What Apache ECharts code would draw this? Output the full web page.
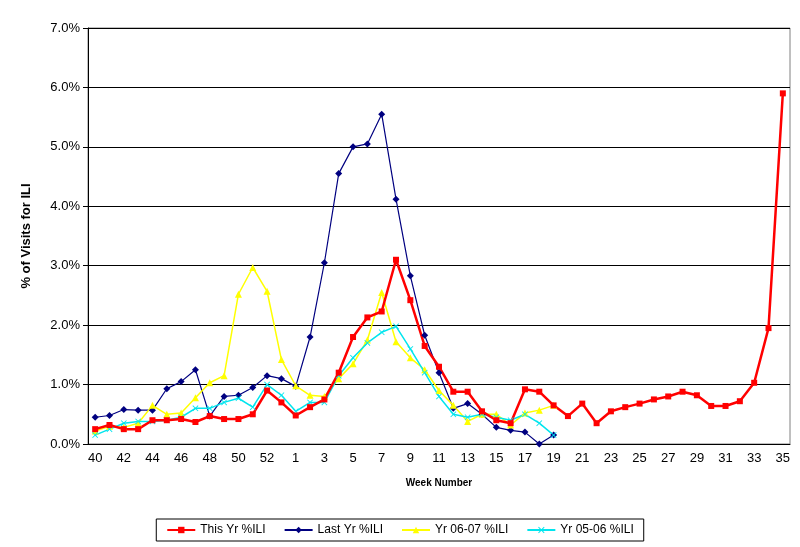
<!DOCTYPE html><html><head><meta charset="utf-8"><script src="https://cdn.jsdelivr.net/npm/echarts@6/dist/echarts.min.js"></script></head><body style="margin:0"><div id="c" style="width:800px;height:547px"></div><script>
const weeks=[40,41,42,43,44,45,46,47,48,49,50,51,52,53,1,2,3,4,5,6,7,8,9,10,11,12,13,14,15,16,17,18,19,20,21,22,23,24,25,26,27,28,29,30,31,32,33,34,35];
const thisYr=[0.25,0.32,0.25,0.25,0.4,0.4,0.42,0.37,0.47,0.42,0.42,0.5,0.9,0.7,0.48,0.62,0.75,1.2,1.8,2.13,2.23,3.1,2.42,1.65,1.3,0.88,0.88,0.55,0.4,0.35,0.92,0.88,0.65,0.47,0.68,0.35,0.55,0.62,0.68,0.75,0.8,0.88,0.82,0.64,0.64,0.72,1.03,1.95,5.9];
const lastYr=[0.45,0.48,0.58,0.57,0.57,0.93,1.05,1.25,0.47,0.8,0.82,0.95,1.15,1.1,0.97,1.8,3.05,4.55,5.0,5.05,5.55,4.12,2.83,1.83,1.2,0.6,0.68,0.5,0.28,0.23,0.2,0.0,0.15];
const yr0607=[0.22,0.3,0.28,0.35,0.65,0.5,0.52,0.78,1.03,1.15,2.52,2.97,2.57,1.42,0.98,0.82,0.8,1.1,1.35,1.75,2.55,1.72,1.45,1.25,0.9,0.65,0.38,0.5,0.5,0.32,0.52,0.57,0.65];
const yr0506=[0.15,0.25,0.35,0.38,0.38,0.4,0.45,0.6,0.6,0.7,0.77,0.62,1.0,0.82,0.55,0.7,0.7,1.15,1.45,1.7,1.88,1.98,1.6,1.2,0.8,0.5,0.45,0.5,0.45,0.4,0.5,0.35,0.15];
const ch=echarts.init(document.getElementById('c'));
const mk=(n,d,c,s,w,ss)=>({name:n,type:'line',data:d,symbol:s,symbolSize:ss,itemStyle:{color:c},lineStyle:{color:c,width:w},animation:false});
const cross='path://M0,1L1,0L5,4L9,0L10,1L6,5L10,9L9,10L5,6L1,10L0,9L4,5Z';
ch.setOption({backgroundColor:'#fff',textStyle:{fontFamily:'Arial, Liberation Sans'},
grid:{left:88,right:10,top:28,bottom:103,show:true,borderColor:'#808080',borderWidth:1},
legend:{bottom:6,left:'center',itemGap:18,itemWidth:28,itemHeight:8,borderColor:'#000',borderWidth:1,padding:[5,10],textStyle:{fontSize:12,color:'#000'},
 data:['This Yr %ILI','Last Yr %ILI','Yr 06-07 %ILI','Yr 05-06 %ILI']},
xAxis:{type:'category',data:weeks,boundaryGap:true,name:'Week Number',nameLocation:'middle',nameGap:34,nameTextStyle:{fontSize:10,fontWeight:'bold',color:'#000'},
 axisLine:{lineStyle:{color:'#000'}},axisTick:{interval:0,lineStyle:{color:'#000'}},axisLabel:{interval:1,color:'#000',fontSize:13}},
yAxis:{type:'value',min:0,max:7,interval:1,name:'% of Visits for ILI',nameLocation:'middle',nameGap:55,nameTextStyle:{fontSize:13,fontWeight:'bold',color:'#000'},
 axisLine:{show:true,lineStyle:{color:'#000'}},axisTick:{show:true,lineStyle:{color:'#000'}},axisLabel:{formatter:v=>v.toFixed(1)+'%',color:'#000',fontSize:13},splitLine:{lineStyle:{color:'#000'}}},
series:[mk('Last Yr %ILI',lastYr,'#000080','diamond',1.2,7),mk('Yr 06-07 %ILI',yr0607,'#ffff00','triangle',1.5,7),mk('Yr 05-06 %ILI',yr0506,'#00e5ee',cross,1.5,6),mk('This Yr %ILI',thisYr,'#ff0000','rect',2.5,6)]});
</script></body></html>
